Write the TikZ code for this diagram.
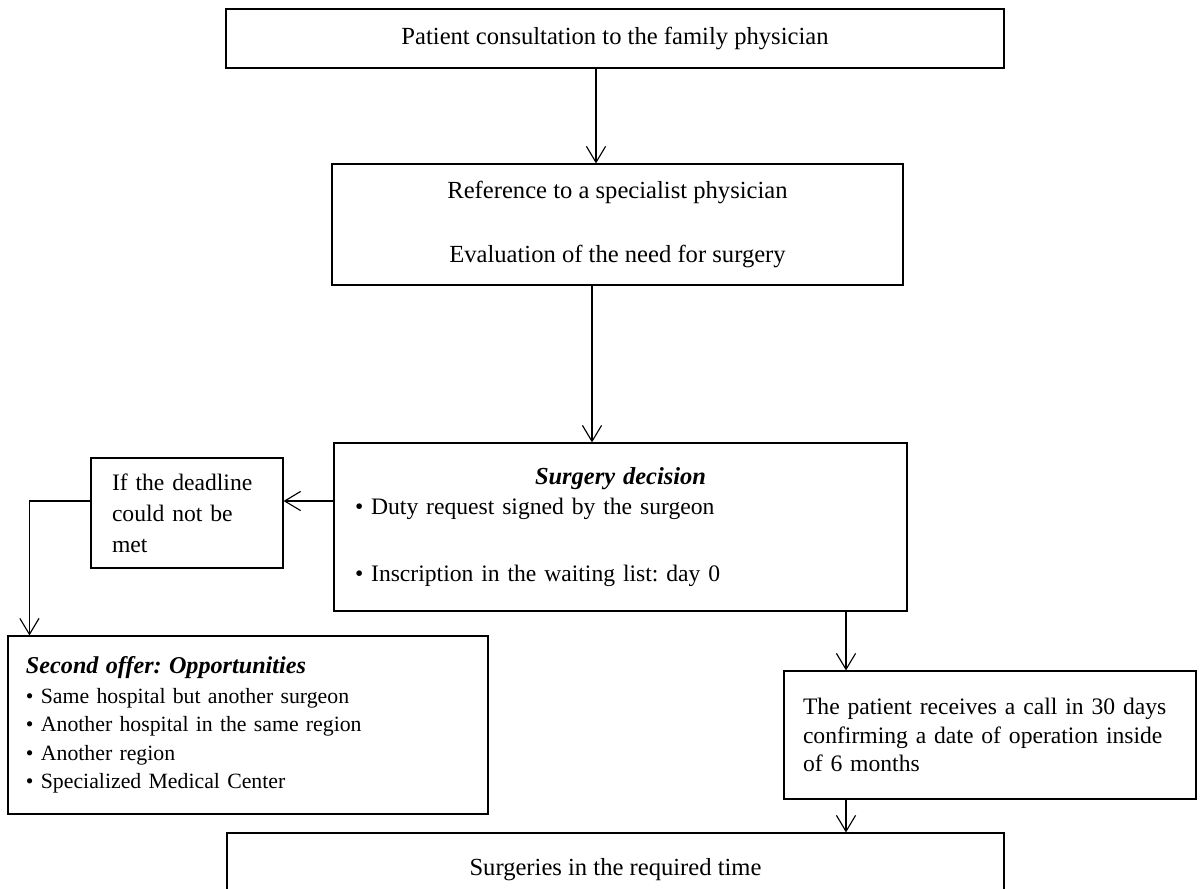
\documentclass[tikz,border=0pt]{standalone}
\usepackage{fontspec}
\setmainfont{Liberation Serif}
\frenchspacing
\usepackage{tikz}
\usetikzlibrary{positioning,calc,arrows.meta}
\tikzset{
    stepbox/.style={draw=black, line width=0.8pt, fill=white, inner sep=0pt, font=\fontsize{17.5}{21}\selectfont},
    flow/.style={draw=black, line width=0.8pt, -{Straight Barb[length=4mm, width=4.8mm, line width=0.8pt]}}
}
\begin{document}
\begin{tikzpicture}[
        % Cấu hình các hộp có chữ căn trái
        listbox/.style={stepbox, align=left, anchor=center, font=\fontsize{16.8}{20.5}\selectfont},
        titletext/.style={font=\bfseries\itshape}
    ]
        \useasboundingbox (0,0) rectangle (30,-22.2);

        % --- CÁC HỘP CHÍNH ---
        \node[stepbox, minimum width=19.45cm, minimum height=1.475cm] (consult) at (15.375,-0.9625)
            {Patient consultation to the family physician};

        \node[stepbox, align=center, minimum width=14.275cm, minimum height=3.025cm] (referral) at (15.4375,-5.6125)
            {Reference to a specialist physician\\[25pt]Evaluation of the need for surgery};

        \node[listbox, inner xsep=0.525cm, text width=13.275cm, minimum height=4.2cm] (decision) at (15.5125,-13.175)
            {\makebox[13.275cm][c]{\fontsize{17.4}{20.5}\selectfont\bfseries\itshape Surgery decision}\\[1pt]
             • Duty request signed by the surgeon\\[27pt]
             • Inscription in the waiting list: day 0};

        % Nhánh trái: không kịp hạn
        \node[listbox, inner xsep=0.525cm, text width=3.75cm, minimum height=2.75cm,
              font=\fontsize{16.8}{22}\selectfont] (deadline) at (4.675,-12.825)
            {If the deadline\\could not be\\met};

        \node[listbox, inner xsep=0.45cm, text width=11.1cm, minimum height=4.45cm,
              font=\fontsize{15.5}{20.3}\selectfont] (offer) at (6.2,-18.125)
            {{\fontsize{17.2}{20.3}\selectfont\bfseries\itshape Second offer: Opportunities}\\[1pt]
             • Same hospital but another surgeon\\
             • Another hospital in the same region\\
             • Another region\\
             • Specialized Medical Center};

        % Nhánh phải: cuộc gọi trong 30 ngày
        \node[listbox, inner xsep=0.475cm, text width=9.35cm, minimum height=3.2cm] (call) at (24.75,-18.375)
            {The patient receives a call in 30 days\\confirming a date of operation inside\\of 6 months};

        % --- HỘP KẾT QUẢ ---
        \node[stepbox, minimum width=19.425cm, minimum height=1.85cm] (surgery) at (15.3875,-21.75)
            {Surgeries in the required time};

        % --- CÁC MŨI TÊN ---
        \draw[flow] ([xshift=-0.475cm]consult.south) -- ([xshift=-0.475cm]consult.south |- referral.north);
        \draw[flow] ([xshift=-0.6375cm]referral.south) -- ([xshift=-0.6375cm]referral.south |- decision.north);
        \draw[flow] ([yshift=0.65cm]decision.west) -- ([yshift=0.65cm]decision.west -| deadline.east);
        \draw[flow] ([yshift=0.3cm]deadline.west) -| ([xshift=0.55cm]offer.north west);
        \draw[flow] ([xshift=-3.6cm]call.north |- decision.south) -- ([xshift=-3.6cm]call.north);
        \draw[flow] ([xshift=-3.6cm]call.south) -- ([xshift=-3.6cm]call.south |- surgery.north);

    \end{tikzpicture}
\end{document}
